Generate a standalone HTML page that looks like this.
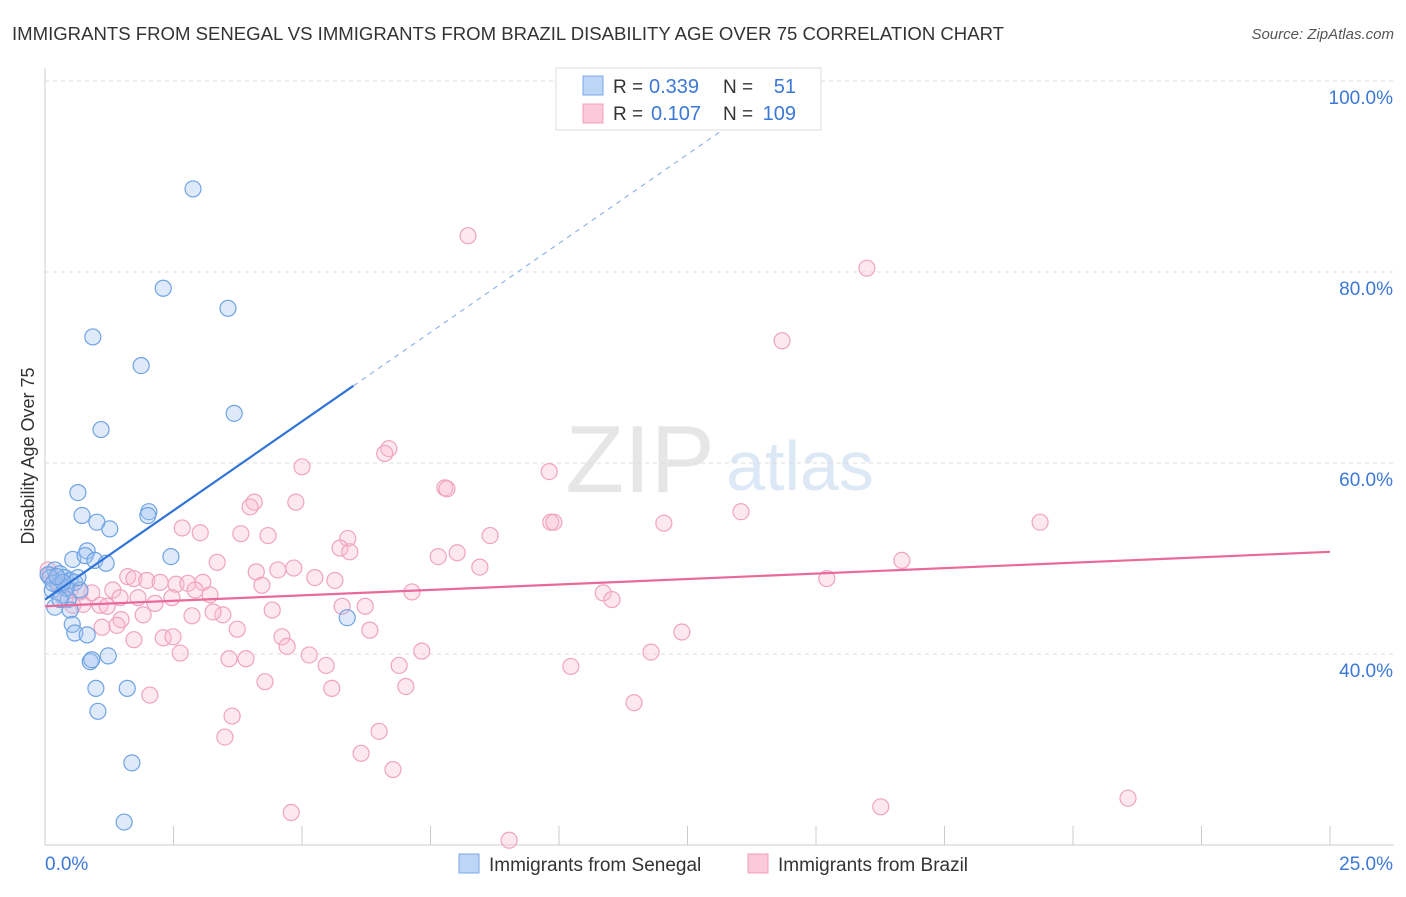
<!DOCTYPE html>
<html><head><meta charset="utf-8"><style>
body{margin:0;background:#fff;font-family:"Liberation Sans",sans-serif;}
svg text{font-family:"Liberation Sans",sans-serif;}
</style></head><body>
<svg id="chart" width="1406" height="892">
<text x="12" y="40" font-size="18" fill="#333" textLength="992" lengthAdjust="spacingAndGlyphs">IMMIGRANTS FROM SENEGAL VS IMMIGRANTS FROM BRAZIL DISABILITY AGE OVER 75 CORRELATION CHART</text>
<text x="1394" y="39" font-size="15" fill="#555" text-anchor="end" font-style="italic">Source: ZipAtlas.com</text>
<text x="640" y="492" font-size="96" fill="#e6e6e6" font-family="Liberation Serif" text-anchor="middle">ZIP</text>
<text x="800" y="490" font-size="70" fill="#dce8f5" text-anchor="middle">atlas</text>
<g id="grid"></g>
<g id="axes"></g>
<g id="marks"></g>
<text transform="translate(34,456) rotate(-90)" font-size="18" fill="#333" text-anchor="middle">Disability Age Over 75</text>
<g>
<rect x="556" y="68" width="265" height="62" fill="#fff" stroke="#ddd"/>
<rect x="583" y="76" width="20" height="19" fill="#bdd6f7" stroke="#7aa8e6"/>
<rect x="583" y="104" width="20" height="19" fill="#fbc9d9" stroke="#f0a0bc"/>
<text x="613" y="93" font-size="19" fill="#333">R =</text>
<text x="649" y="93" font-size="20" fill="#3b78d8">0.339</text>
<text x="723" y="93" font-size="19" fill="#333">N =</text>
<text x="796" y="93" font-size="20" fill="#3b78d8" text-anchor="end">51</text>
<text x="613" y="120" font-size="19" fill="#333">R =</text>
<text x="651" y="120" font-size="20" fill="#3b78d8">0.107</text>
<text x="723" y="120" font-size="19" fill="#333">N =</text>
<text x="796" y="120" font-size="20" fill="#3b78d8" text-anchor="end">109</text>
</g>
<g>
<rect x="459" y="854" width="20" height="19" fill="#bdd6f7" stroke="#7aa8e6"/>
<text x="489" y="871" font-size="19" fill="#333">Immigrants from Senegal</text>
<rect x="748" y="854" width="20" height="19" fill="#fbc9d9" stroke="#f0a0bc"/>
<text x="778" y="871" font-size="19" fill="#333">Immigrants from Brazil</text>
</g>
</svg>
<script>
const yTicks=[40,60,80,100];
const yTickLabels=["40.0%","60.0%","80.0%","100.0%"];
const xTicks=[0,2.5,5,7.5,10,12.5,15,17.5,20,22.5,25];
const xTickLabels=["0.0%","25.0%"];
const senegalX=[2.88,2.30,3.56,0.93,1.87,3.68,1.09,0.64,0.72,1.01,1.26,2.02,2.00,0.82,0.54,0.78,0.97,1.19,2.45,0.19,0.29,0.10,0.39,0.49,0.58,0.25,0.14,0.33,0.68,0.45,0.19,0.49,0.53,0.58,0.82,1.23,0.88,0.91,0.99,1.60,1.03,1.69,1.54,5.88,0.06,0.16,0.41,0.64,0.29,0.35,0.23];
const senegalY=[88.7,78.3,76.2,73.2,70.2,65.2,63.5,56.9,54.5,53.8,53.1,54.9,54.5,50.8,49.9,50.3,49.8,49.5,50.2,48.8,48.4,48.0,48.0,47.7,47.5,47.2,46.7,46.2,46.7,45.7,44.9,44.6,43.1,42.2,42.0,39.8,39.2,39.4,36.4,36.4,34.0,28.6,22.4,43.8,48.3,47.4,46.9,48.0,45.7,47.5,48.1];
const brazilX=[8.23,15.99,14.34,6.69,6.61,5.00,9.81,7.78,7.82,4.07,3.99,4.88,13.54,9.84,9.90,12.04,19.36,2.67,3.02,3.81,4.34,5.89,8.66,5.74,5.93,7.65,8.02,3.35,16.67,8.46,4.84,4.53,4.11,1.61,1.73,1.98,2.24,2.55,2.78,3.07,4.22,5.25,5.64,15.21,1.32,0.91,1.46,1.81,2.14,2.47,2.92,3.21,1.07,1.21,0.74,0.54,4.42,7.14,10.86,11.03,5.78,6.23,3.46,3.27,2.86,1.48,1.91,1.11,1.40,3.74,6.32,12.39,1.73,2.30,2.49,4.61,4.71,2.63,5.14,7.33,11.79,3.58,3.91,5.47,6.89,10.23,4.28,5.58,7.02,2.04,11.46,3.64,6.50,3.50,6.15,6.77,16.26,21.07,4.79,9.03,0.10,0.19,0.29,0.49,0.39,0.68,0.06];
const brazilY=[83.8,80.4,72.8,61.5,61.0,59.6,59.1,57.4,57.3,55.9,55.4,55.9,54.9,53.8,53.8,53.7,53.8,53.2,52.7,52.6,52.4,52.1,52.4,51.1,50.7,50.2,50.6,49.6,49.8,49.1,49.0,48.8,48.6,48.1,47.9,47.7,47.5,47.3,47.4,47.5,47.2,48.0,47.7,47.9,46.7,46.4,45.9,45.9,45.3,45.9,46.7,46.2,45.1,45.0,45.2,45.1,44.6,46.5,46.4,45.7,45.0,45.0,44.1,44.4,44.0,43.6,44.1,42.8,43.0,42.6,42.5,42.3,41.5,41.7,41.8,41.8,40.8,40.1,39.9,40.3,40.2,39.5,39.5,38.8,38.8,38.7,37.1,36.4,36.6,35.7,34.9,33.5,31.9,31.3,29.6,27.9,24.0,24.9,23.4,20.5,48.3,47.7,47.2,46.7,45.7,46.5,48.8];
const senegalTrend=[45.7,3.73];
const brazilTrend=[45.0,0.228];

const NS="http://www.w3.org/2000/svg";
const xs=v=>45+v/25*1285;
const ys=v=>81+(100-v)*9.55;
function mk(tag,attrs,parent){const e=document.createElementNS(NS,tag);for(const k in attrs)e.setAttribute(k,attrs[k]);document.getElementById(parent).appendChild(e);return e;}

yTicks.forEach((t,i)=>{
  const l=mk('line',{x1:45,x2:1394,y1:ys(t),y2:ys(t),stroke:'#ddd','stroke-dasharray':'4,4'},'grid');
  
  
  const tx=mk('text',{x:1393,y:ys(t)+23,'font-size':19,fill:'#3b78d8','text-anchor':'end'},'axes');
  tx.textContent=yTickLabels[i];
  
  
});
let a=mk('line',{x1:45,x2:45,y1:68,y2:845,stroke:'#ccc'},'axes');


a=mk('line',{x1:45,x2:1394,y1:845,y2:845,stroke:'#ccc'},'axes');


xTicks.forEach(t=>{
  const l=mk('line',{x1:xs(t),x2:xs(t),y1:826,y2:845,stroke:'#ccc'},'axes');
  
  
});
let t0=mk('text',{x:45,y:870,'font-size':19,fill:'#3b78d8'},'axes');t0.textContent=xTickLabels[0];


let t1=mk('text',{x:1393,y:870,'font-size':19,fill:'#3b78d8','text-anchor':'end'},'axes');t1.textContent=xTickLabels[1];



brazilX.forEach((x,i)=>{
  const c=mk('circle',{cx:xs(x),cy:ys(brazilY[i]),r:8,fill:'rgba(248,188,208,0.35)',stroke:'#f0a3bf','stroke-width':1.2},'marks');
  
  
});
senegalX.forEach((x,i)=>{
  const c=mk('circle',{cx:xs(x),cy:ys(senegalY[i]),r:8,fill:'rgba(160,196,240,0.35)',stroke:'#6fa3e3','stroke-width':1.2},'marks');
  
  
});
const f=(tr,x)=>tr[0]+tr[1]*x;
let tl=mk('line',{x1:xs(0),y1:ys(f(senegalTrend,0)),x2:xs(6),y2:ys(f(senegalTrend,6)),stroke:'#2f74d6','stroke-width':2.2},'marks');


tl=mk('line',{x1:xs(6),y1:ys(f(senegalTrend,6)),x2:xs(13.5),y2:ys(f(senegalTrend,13.5)),stroke:'#8fb5e8','stroke-width':1.2,'stroke-dasharray':'5,5'},'marks');


tl=mk('line',{x1:xs(0),y1:ys(f(brazilTrend,0)),x2:xs(25),y2:ys(f(brazilTrend,25)),stroke:'#e8699a','stroke-width':2.2},'marks');


</script>
</body></html>
